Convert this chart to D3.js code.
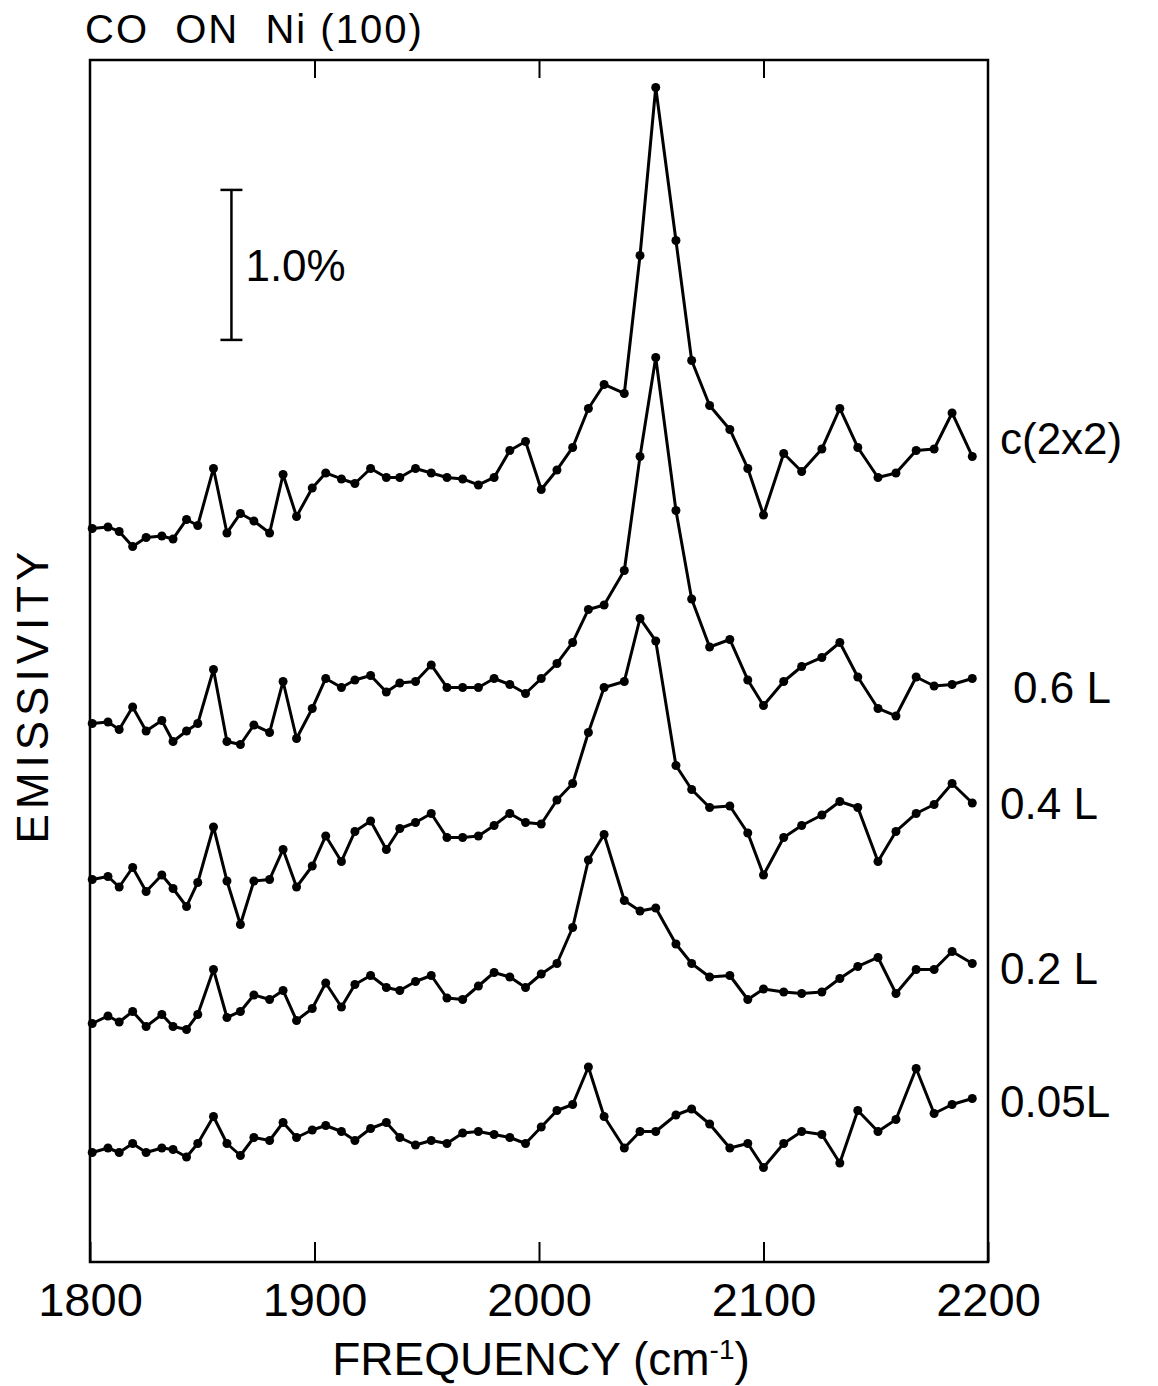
<!DOCTYPE html>
<html>
<head>
<meta charset="utf-8">
<script src="https://cdn.jsdelivr.net/npm/d3@7"></script>
<style>
  body { margin: 0; background: #fff; }
  text { font-family: "Liberation Sans", Arial, sans-serif; fill: #000; }
</style>
</head>
<body>
<script>
// frequency grid (cm-1), shared by all traces
var freq = [1801,1808,1813,1819,1825,1832,1837,1843,1848,1855,
            1861,1867,1873,1880,1886,1892,1899,1905,1912,1918,
            1925,1932,1938,1945,1952,1959,1966,1973,1980,1987,
            1994,2001,2008,2015,2022,2029,2038,2045,2052,2061,
            2068,2076,2085,2093,2100,2109,2117,2126,2134,2142,
            2151,2159,2168,2176,2184,2193];

// emissivity (%), traces offset vertically as in the figure
var c2x2 = [4.89,4.90,4.87,4.77,4.83,4.84,4.82,4.95,4.91,5.29,
            4.86,4.99,4.94,4.86,5.25,4.97,5.16,5.26,5.22,5.19,
            5.29,5.23,5.23,5.29,5.26,5.23,5.22,5.18,5.23,5.41,
            5.47,5.15,5.28,5.43,5.69,5.85,5.79,6.71,7.83,6.81,
            6.01,5.71,5.55,5.29,4.98,5.39,5.27,5.42,5.69,5.43,
            5.23,5.26,5.41,5.42,5.66,5.37];
var L06 = [3.59,3.60,3.55,3.70,3.54,3.61,3.47,3.54,3.59,3.95,
           3.47,3.45,3.58,3.53,3.87,3.49,3.69,3.89,3.83,3.88,
           3.91,3.80,3.86,3.87,3.98,3.83,3.83,3.83,3.89,3.85,
           3.79,3.89,3.99,4.13,4.35,4.38,4.61,5.37,6.03,5.01,
           4.42,4.10,4.15,3.88,3.71,3.87,3.97,4.03,4.13,3.90,
           3.69,3.64,3.90,3.84,3.85,3.89];
var L04 = [2.55,2.57,2.50,2.63,2.47,2.58,2.49,2.37,2.53,2.90,
           2.54,2.25,2.54,2.55,2.75,2.50,2.64,2.84,2.67,2.87,
           2.94,2.75,2.89,2.93,2.99,2.83,2.83,2.84,2.91,2.99,
           2.93,2.92,3.08,3.19,3.53,3.83,3.87,4.29,4.14,3.31,
           3.15,3.03,3.04,2.86,2.58,2.83,2.91,2.98,3.07,3.03,
           2.67,2.87,2.99,3.05,3.19,3.06];
var L02 = [1.59,1.64,1.60,1.67,1.57,1.65,1.57,1.55,1.65,1.95,
           1.63,1.67,1.78,1.75,1.81,1.61,1.69,1.86,1.70,1.85,
           1.91,1.83,1.81,1.87,1.91,1.76,1.75,1.84,1.93,1.90,
           1.83,1.92,1.99,2.23,2.68,2.85,2.41,2.34,2.36,2.12,
           1.99,1.90,1.91,1.75,1.82,1.80,1.79,1.80,1.89,1.97,
           2.03,1.79,1.95,1.95,2.07,1.99];
var L005 = [0.73,0.76,0.73,0.79,0.73,0.76,0.75,0.70,0.79,0.97,
            0.79,0.71,0.83,0.81,0.93,0.83,0.88,0.91,0.87,0.81,
            0.89,0.93,0.83,0.78,0.81,0.79,0.86,0.87,0.85,0.83,
            0.79,0.90,1.01,1.05,1.30,0.97,0.76,0.87,0.87,0.98,
            1.02,0.92,0.76,0.79,0.63,0.79,0.87,0.85,0.66,1.01,
            0.87,0.95,1.29,0.99,1.05,1.09];

var labels = ["c(2x2)", "0.6 L", "0.4 L", "0.2 L", "0.05L"];
var labelAt = [5.49, 3.83, 3.06, 1.96, 1.07];
var xTicks = [1800, 1900, 2000, 2100, 2200];

var traces = [c2x2, L06, L04, L02, L005];

var width = 1158, height = 1386;
var margin = {top: 60, right: 170, bottom: 124, left: 90};

var svg = d3.select("body").append("svg")
    .attr("width", width)
    .attr("height", height);

var x = d3.scaleLinear()
    .domain([1800, 2200])
    .range([margin.left, width - margin.right]);

var y = d3.scaleLinear()
    .domain([0, 8.013])
    .range([height - margin.bottom, margin.top]);

// frame
svg.append("rect")
    .attr("x", x(1800))
    .attr("y", y(8.013))
    .attr("width", x(2200) - x(1800))
    .attr("height", y(0) - y(8.013))
    .attr("fill", "none")
    .attr("stroke", "#000")
    .attr("stroke-width", 2.5);

var xAxis = svg.append("g")
    .attr("transform", `translate(0,${y(0)})`)
    .call(d3.axisBottom(x).tickValues(xTicks).tickFormat(d3.format("d"))
        .tickSize(-20).tickPadding(21));
xAxis.select(".domain").remove();
xAxis.selectAll("line").attr("stroke-width", 2);
xAxis.selectAll("text")
    .style("font-size", "47px")
    .style("font-family", "'Liberation Sans', Arial, sans-serif");

var topAxis = svg.append("g")
    .attr("transform", `translate(0,${y(8.013)})`)
    .call(d3.axisTop(x).tickValues([1900, 2000, 2100]).tickFormat("").tickSize(-18));
topAxis.select(".domain").remove();
topAxis.selectAll("line").attr("stroke-width", 2);

// traces
var line = d3.line()
    .x(function(d, i) { return x(freq[i]); })
    .y(function(d) { return y(d); });

traces.forEach(function(vals, k) {
    svg.append("path")
        .datum(vals)
        .attr("d", line)
        .attr("fill", "none")
        .attr("stroke", "#000")
        .attr("stroke-width", 3)
        .attr("stroke-linejoin", "round");

    svg.selectAll(".dot-" + k)
        .data(vals)
        .enter().append("circle")
        .attr("class", "dot-" + k)
        .attr("cx", function(d, i) { return x(freq[i]); })
        .attr("cy", function(d) { return y(d); })
        .attr("r", 4.5)
        .attr("fill", "#000");

    svg.append("text")
        .attr("x", k == 1 ? 1013 : 1000)
        .attr("y", y(labelAt[k]))
        .attr("dy", "0.36em")
        .style("font-size", "44px")
        .text(labels[k]);
});

// 1.0 % scale bar
var barX = x(1863);
svg.append("line")
    .attr("x1", barX).attr("x2", barX)
    .attr("y1", y(6.147)).attr("y2", y(7.147))
    .attr("stroke", "#000").attr("stroke-width", 2.5);
[6.147, 7.147].forEach(function(v) {
    svg.append("line")
        .attr("x1", barX - 11).attr("x2", barX + 11)
        .attr("y1", y(v)).attr("y2", y(v))
        .attr("stroke", "#000").attr("stroke-width", 2.5);
});
svg.append("text")
    .attr("x", barX + 14)
    .attr("y", y(6.647))
    .attr("dy", "0.36em")
    .style("font-size", "44px")
    .text("1.0%");

// titles
svg.append("text")
    .attr("x", 85)
    .attr("y", 43)
    .style("font-size", "40px")
    .style("letter-spacing", "2px")
    .style("white-space", "pre")
    .attr("xml:space", "preserve")
    .text("CO  ON  Ni (100)");

var xl = svg.append("text")
    .attr("x", (x(1800) + x(2200)) / 2 + 2)
    .attr("y", 1375)
    .attr("text-anchor", "middle")
    .style("font-size", "46px");
xl.append("tspan").text("FREQUENCY (cm");
xl.append("tspan").attr("dy", -16).style("font-size", "28px").text("-1");
xl.append("tspan").attr("dy", 16).text(")");

svg.append("text")
    .attr("transform", "translate(48,695) rotate(-90)")
    .attr("text-anchor", "middle")
    .style("font-size", "44px")
    .style("letter-spacing", "5px")
    .text("EMISSIVITY");
</script>
</body>
</html>
